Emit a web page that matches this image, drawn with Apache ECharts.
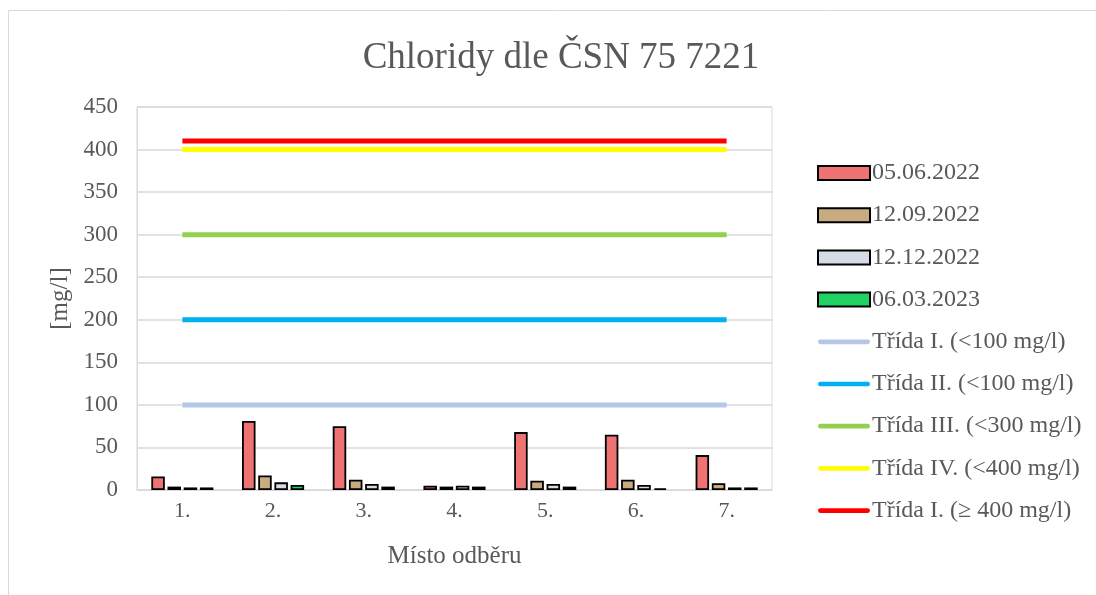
<!DOCTYPE html>
<html><head><meta charset="utf-8">
<script src="https://cdn.jsdelivr.net/npm/echarts@6/dist/echarts.min.js"></script>
<style>html,body{margin:0;padding:0;background:#fff}#c{width:1096px;height:595px}</style>
</head><body><div id="c"></div>
<script>
const categories = ['1.','2.','3.','4.','5.','6.','7.'];
const barNames = ['05.06.2022','12.09.2022','12.12.2022','06.03.2023'];
const s0506_2022 = [16, 81, 75, 5, 68, 65, 41];
const s1209_2022 = [4, 17, 12, 4, 11, 12, 8];
const s1212_2022 = [3, 9, 7, 5, 7, 6, 3];
const s0603_2023 = [3, 6, 4, 4, 4, 2, 3];
const lineNames = ['Třída I. (<100 mg/l)','Třída II. (<100 mg/l)','Třída III. (<300 mg/l)','Třída IV. (<400 mg/l)','Třída I. (≥ 400 mg/l)'];
const lineLevels = [100, 200, 300, 400, 410];
const yTicks = [0, 50, 100, 150, 200, 250, 300, 350, 400, 450];

const barColors = ['#F07373','#C9AB82','#D6DCE5','#22D163'];
const lineColors = ['#B4C7E7','#00B0F0','#92D050','#FFFF00','#FF0000'];
const barData = [s0506_2022, s1209_2022, s1212_2022, s0603_2023];
const font = '"Liberation Serif", "Times New Roman", serif';
const lineIcon = 'path://M2.5,0 h50 a2.5,2.5 0 0 1 0,5 h-50 a2.5,2.5 0 0 1 0,-5 z';

const series = [];
barData.forEach((d,i)=>series.push({
  name: barNames[i], type:'bar', data:d, barWidth:13.5, barGap:'20%',
  itemStyle:{color:barColors[i], borderColor:'#000', borderWidth:1.8}
}));
lineLevels.forEach((v,i)=>series.push({
  name: lineNames[i], type:'line', data: categories.map(()=>v), symbol:'none',
  lineStyle:{color:lineColors[i], width:5}, itemStyle:{color:lineColors[i]}
}));

const chart = echarts.init(document.getElementById('c'), null, {renderer:'canvas'});
chart.setOption({
  animation:false,
  textStyle:{fontFamily:font},
  title:{text:'Chloridy dle ČSN 75 7221', left:556, top:35, textAlign:'center',
    textStyle:{fontFamily:font, fontSize:37, fontWeight:'normal', color:'#595959'}},
  graphic:[{type:'rect', shape:{x:8.5,y:10.5,width:1100,height:600}, style:{fill:'none', stroke:'#D9D9D9', lineWidth:1}, silent:true}],
  grid:{left:137, right:324, top:107, bottom:105, show:true, borderColor:'#D9D9D9', borderWidth:1},
  legend:{orient:'vertical', left:812, top:156, itemGap:18.2, itemWidth:52, itemHeight:14,
    textStyle:{fontFamily:font, fontSize:24, color:'#595959', padding:[0,0,0,-3]},
    data: barNames.map(n=>({name:n, icon:'rect'})).concat(lineNames.map(n=>({name:n, icon:lineIcon})))},
  xAxis:{type:'category', data:categories, name:'Místo odběru', nameLocation:'middle', nameGap:54,
    nameTextStyle:{fontFamily:font, fontSize:25, color:'#595959'},
    axisLine:{lineStyle:{color:'#D9D9D9'}}, axisTick:{show:false},
    axisLabel:{fontFamily:font, fontSize:22, color:'#595959', margin:10}},
  yAxis:{type:'value', min:0, max:450, interval:50, name:'[mg/l]', nameLocation:'middle', nameGap:62,
    nameTextStyle:{fontFamily:font, fontSize:25, color:'#595959'},
    axisLine:{show:true, lineStyle:{color:'#D9D9D9'}}, axisTick:{show:false},
    splitLine:{lineStyle:{color:'#D9D9D9', width:1.5}},
    axisLabel:{fontFamily:font, fontSize:23, color:'#595959', margin:19,
      formatter:v=>yTicks.includes(v)?String(v):''}},
  series
});
</script></body></html>
